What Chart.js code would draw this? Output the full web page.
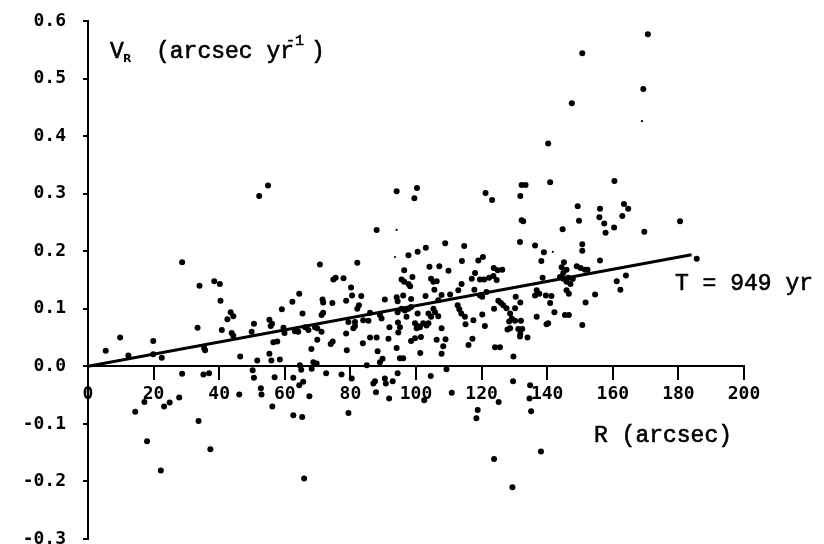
<!DOCTYPE html>
<html>
<head>
<meta charset="utf-8">
<script src="https://cdn.jsdelivr.net/npm/chart.js@4.4.1/dist/chart.umd.min.js"></script>
<style>
  html, body { margin: 0; padding: 0; background: #fff; }
  canvas { display: block; }
</style>
</head>
<body>
<canvas id="chart" width="824" height="544"></canvas>
<script>
/* ===========================
   Data
   R in arcsec, V_R in arcsec/yr
   =========================== */

const rArcsec = [
  140.3, 140.9, 132.2, 133.4, 170.7, 150.7, 169.3, 147.5, 160.5, 52.2, 54.9, 94.1, 88.0, 100.3, 99.5,
  70.7, 82.1, 74.8, 75.5, 77.9, 80.2, 64.4, 80.5, 83.3, 62.3, 71.5, 71.7, 74.5, 78.7, 82.6, 82.1, 90.5,
  94.1, 94.4, 59.1, 65.4, 71.7, 71.2, 86.0, 89.0, 89.5, 94.5, 55.3, 56.1, 55.7, 50.6, 79.4, 81.4, 81.4,
  80.9, 83.9, 85.5, 59.6, 59.9, 63.1, 64.1, 66.2, 67.2, 69.2, 69.9, 71.2, 49.9, 91.9, 78.7, 86.0, 88.0,
  91.6, 94.6, 83.8,
  28.7, 34.0, 38.5, 40.2, 40.4, 43.5, 44.3, 42.5, 33.4, 40.8, 43.8, 44.3, 9.8, 19.9,
  5.4, 12.3, 19.9, 22.5, 35.4, 35.7, 46.4, 28.7, 35.2, 36.9, 46.1, 27.8, 17.2, 23.2, 24.9, 14.4, 33.7,
  18.0, 37.3, 22.2,
  56.5, 57.7, 69.9, 74.0, 74.6, 68.1, 78.9, 55.3, 51.6, 55.9, 58.5, 64.6, 68.7, 69.7, 68.2, 88.3, 89.8,
  89.0, 85.0, 95.1, 50.2, 50.6, 56.9, 62.6, 65.0, 72.6, 77.3, 80.4, 87.0, 87.5, 90.5, 90.8, 92.9, 64.4,
  65.6, 52.7, 52.9, 67.5, 87.8, 91.8, 56.2, 62.6, 65.3, 79.4, 65.9,
  98.5, 99.7, 101.5, 106.3, 109.0, 117.2, 108.3, 107.8, 116.0, 124.1, 125.6, 94.1, 101.3, 96.1, 129.7,
  131.7, 134.0, 109.3, 94.4, 104.5, 129.6, 134.8, 134.6, 102.5, 110.9, 125.2, 118.8, 118.4, 135.1, 138.1,
  123.8, 129.4,
  121.2, 123.2, 131.8, 132.2, 132.7, 131.7, 108.9, 114.7, 136.3, 103.0, 100.5, 97.7, 139.0, 119.0, 120.4,
  114.0, 138.2, 104.1, 107.1, 109.9, 96.4, 118.0, 123.7, 124.9, 126.3, 120.8, 122.3, 123.6, 124.6, 117.0,
  119.5, 95.6, 96.4, 97.7, 98.9, 104.6, 105.3, 106.3, 113.9, 138.6, 98.2, 105.6, 112.9, 117.8, 121.5,
  136.8, 137.6, 136.3, 139.6, 141.3, 96.1, 98.5, 102.9, 107.8, 106.8, 110.4, 119.5, 120.2, 125.1, 125.9,
  126.6, 130.4, 131.8, 130.2, 140.9, 112.7, 113.2, 113.8, 114.9, 123.8, 127.6, 95.6, 96.6, 97.7, 98.5,
  105.3, 105.8, 94.4, 100.5, 103.8, 104.6, 106.8, 97.1, 128.7, 129.2, 120.2, 136.8, 142.2, 130.2, 132.0,
  128.4, 95.1, 99.7, 100.5, 102.2, 103.2, 103.8, 115.1, 117.5, 121.0, 139.8, 140.3, 107.8, 100.2, 101.2,
  127.9, 128.7, 131.2, 132.4, 131.8,
  149.3, 156.1, 163.4, 164.7, 149.7, 155.9, 157.4, 162.9, 160.4, 180.5, 144.7, 157.8, 169.6, 150.7, 150.7,
  156.1, 185.6, 145.1, 144.4, 145.9, 144.9, 149.0, 150.2, 151.5, 152.3, 143.9, 144.9, 146.4, 147.8, 145.9,
  147.1, 164.0, 161.2, 162.3, 145.9, 146.6, 154.6, 151.7, 145.4, 146.6, 150.7
];

const vR = [
  0.387, 0.320, 0.315, 0.315, 0.577, 0.544, 0.482, 0.457, 0.322, 0.296, 0.314, 0.304, 0.237, 0.310, 0.292,
  0.177, 0.180, 0.151, 0.154, 0.153, 0.137, 0.126, 0.123, 0.122, 0.112, 0.116, 0.111, 0.110, 0.114, 0.106, 0.100, 0.116,
  0.120, 0.113, 0.099, 0.092, 0.093, 0.089, 0.093, 0.089, 0.083, 0.076, 0.081, 0.074, 0.070, 0.074, 0.077, 0.077, 0.070,
  0.066, 0.080, 0.079, 0.067, 0.058, 0.061, 0.060, 0.068, 0.063, 0.068, 0.066, 0.060, 0.060, 0.068, 0.057, 0.050, 0.050,
  0.048, 0.059, 0.040,
  0.181, 0.140, 0.148, 0.143, 0.114, 0.094, 0.087, 0.082, 0.067, 0.063, 0.058, 0.053, 0.050, 0.044,
  0.027, 0.019, 0.021, 0.015, 0.032, 0.028, 0.017, -0.013, -0.014, -0.012, -0.049, -0.054, -0.062, -0.070, -0.063, -0.079, -0.095,
  -0.130, -0.144, -0.181,
  0.042, 0.043, 0.046, 0.039, 0.043, 0.030, 0.028, 0.022, 0.010, 0.010, 0.012, 0.002, 0.007, 0.005, -0.004, 0.026, 0.013,
  0.007, 0.002, 0.014, -0.007, -0.020, -0.019, -0.020, -0.006, -0.012, -0.014, -0.021, -0.030, -0.026, -0.021, -0.030, -0.026, -0.033,
  -0.027, -0.038, -0.049, -0.052, -0.045, -0.056, -0.070, -0.085, -0.088, -0.081, -0.195,
  0.044, 0.049, 0.051, 0.046, 0.047, 0.048, 0.035, 0.022, 0.037, 0.033, 0.033, 0.032, 0.023, 0.014, 0.017,
  0.052, 0.050, -0.005, -0.012, -0.017, -0.026, -0.033, -0.056, -0.059, -0.046, -0.062, -0.076, -0.090, -0.078, -0.148,
  -0.161, -0.210,
  0.301, 0.289, 0.296, 0.254, 0.252, 0.216, 0.214, 0.209, 0.210, 0.206, 0.199, 0.193, 0.198, 0.184, 0.190,
  0.183, 0.183, 0.173, 0.174, 0.166, 0.167, 0.162, 0.171, 0.167, 0.168, 0.151, 0.154, 0.157, 0.150, 0.152,
  0.151, 0.151, 0.147, 0.143, 0.155, 0.152, 0.147, 0.148, 0.143, 0.154, 0.139, 0.133, 0.132, 0.133, 0.129,
  0.132, 0.126, 0.123, 0.123, 0.122, 0.123, 0.117, 0.122, 0.124, 0.115, 0.125, 0.123, 0.121, 0.114, 0.110,
  0.106, 0.121, 0.111, 0.101, 0.110, 0.106, 0.099, 0.092, 0.086, 0.100, 0.101, 0.100, 0.097, 0.100, 0.103,
  0.100, 0.094, 0.094, 0.092, 0.092, 0.086, 0.087, 0.086, 0.092, 0.083, 0.090, 0.086, 0.094, 0.079, 0.079,
  0.078, 0.068, 0.075, 0.070, 0.075, 0.071, 0.075, 0.073, 0.080, 0.070, 0.073, 0.075, 0.066, 0.066, 0.068,
  0.064, 0.066, 0.065, 0.065, 0.056,
  0.278, 0.274, 0.282, 0.274, 0.253, 0.259, 0.248, 0.261, 0.241, 0.252, 0.238, 0.232, 0.234, 0.212, 0.201,
  0.184, 0.187, 0.181, 0.172, 0.168, 0.162, 0.174, 0.171, 0.168, 0.168, 0.155, 0.152, 0.154, 0.152, 0.147,
  0.143, 0.158, 0.148, 0.133, 0.132, 0.126, 0.125, 0.111, 0.089, 0.089, 0.072
];

// faint, tiny dots
const rFaint = [168.9, 94.1, 93.6, 141.7];
const vFaint = [0.426, 0.237, 0.190, 0.199];

// fitted line, T = 949 yr
const fitR = [0, 184];
const fitV = [0, 0.194];

const xTicks = [0, 20, 40, 60, 80, 100, 120, 140, 160, 180, 200];

/* ===========================
   Helpers
   =========================== */

function toPoints(xs, ys) {
  const n = Math.min(xs.length, ys.length);
  const out = [];
  for (let i = 0; i < n; i++) out.push({ x: xs[i], y: ys[i] });
  return out;
}

const tickFont = { family: "'DejaVu Sans Mono', monospace", size: 18, weight: 'bold' };
const typeFont = "'Liberation Mono', 'Courier New', monospace";

// typewriter text, slightly stroked so it looks inked
function typeText(ctx, str, x, y) {
  ctx.fillText(str, x, y);
  ctx.strokeText(str, x, y);
}

const labelsPlugin = {
  id: 'labels',
  afterDraw(chart) {
    const ctx = chart.ctx;
    ctx.save();
    ctx.fillStyle = '#000';
    ctx.strokeStyle = '#000';
    ctx.lineWidth = 0.6;
    ctx.textBaseline = 'alphabetic';
    ctx.textAlign = 'left';

    // V_R (arcsec yr^-1)
    ctx.font = '23px ' + typeFont;
    typeText(ctx, 'V', 110, 58);
    ctx.font = 'bold 11px "DejaVu Sans", sans-serif';
    ctx.fillText('R', 123, 62);
    ctx.font = '23px ' + typeFont;
    typeText(ctx, '(arcsec yr', 156, 58);
    ctx.font = '15px ' + typeFont;
    typeText(ctx, '-1', 286, 45);
    ctx.font = '23px ' + typeFont;
    typeText(ctx, ')', 311, 58);

    typeText(ctx, 'T = 949 yr', 675, 290);
    typeText(ctx, 'R (arcsec)', 594, 442);
    ctx.restore();
  }
};

/* ===========================
   Chart
   =========================== */

new Chart(document.getElementById('chart'), {
  type: 'scatter',
  data: {
    datasets: [
      {
        data: toPoints(rArcsec, vR),
        pointRadius: 3,
        pointBackgroundColor: '#000',
        pointBorderWidth: 0
      },
      {
        data: toPoints(rFaint, vFaint),
        pointRadius: 1.1,
        pointBackgroundColor: '#000',
        pointBorderWidth: 0
      },
      {
        type: 'line',
        data: toPoints(fitR, fitV),
        borderColor: '#000',
        borderWidth: 3,
        pointRadius: 0,
        fill: false
      }
    ]
  },
  options: {
    responsive: false,
    animation: false,
    layout: { padding: { left: 0, right: 80, top: 21, bottom: 5 } },
    plugins: {
      legend: { display: false },
      tooltip: { enabled: false }
    },
    scales: {
      x: {
        type: 'linear',
        position: { y: 0 },
        min: 0,
        max: 200,
        afterBuildTicks(scale) {
          scale.ticks = xTicks.map(v => ({ value: v }));
        },
        afterFit(scale) {
          scale.paddingLeft = 0;
          scale.paddingRight = 0;
        },
        grid: { drawOnChartArea: false, color: '#000', lineWidth: 2, tickLength: 13 },
        border: { color: '#000', width: 2 },
        ticks: { color: '#000', font: tickFont, padding: 4, maxRotation: 0, autoSkip: false }
      },
      y: {
        type: 'linear',
        position: 'left',
        min: -0.3,
        max: 0.6,
        afterFit(scale) {
          scale.width = 88;
          scale.paddingTop = 0;
          scale.paddingBottom = 0;
        },
        grid: { drawOnChartArea: false, color: '#000', lineWidth: 2, tickLength: 5 },
        border: { color: '#000', width: 2 },
        ticks: {
          color: '#000',
          font: tickFont,
          padding: 17,
          stepSize: 0.1,
          callback: v => v.toFixed(1)
        }
      }
    }
  },
  plugins: [labelsPlugin]
});
</script>
</body>
</html>
